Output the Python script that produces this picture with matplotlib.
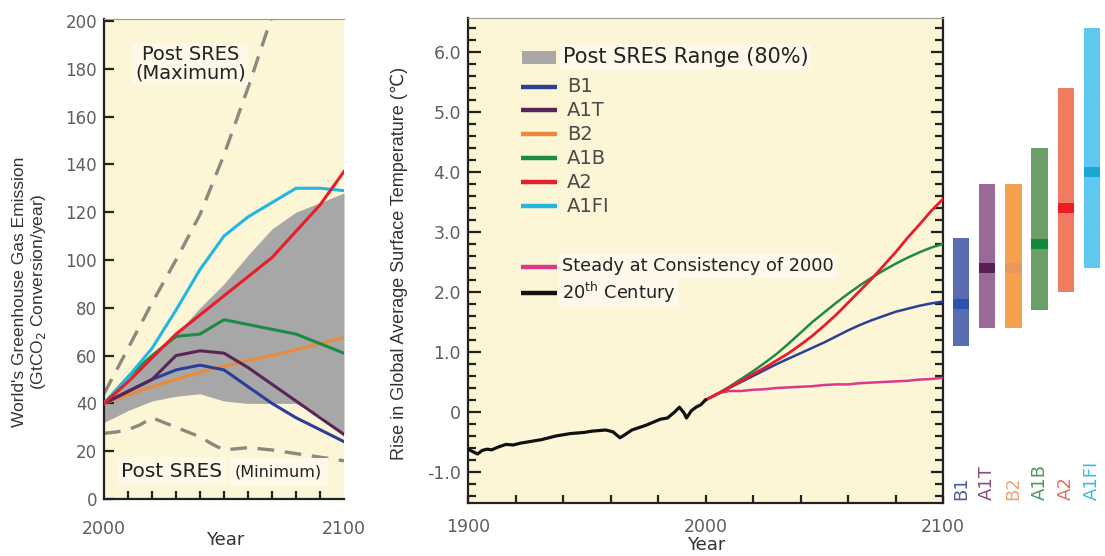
import matplotlib
matplotlib.use("Agg")
import matplotlib.pyplot as plt
from matplotlib.ticker import MultipleLocator, FixedLocator, FuncFormatter

# ---------------- data ----------------
# Left panel: greenhouse gas emissions (GtCO2-eq / year)
emis_years = [2000, 2010, 2020, 2030, 2040, 2050, 2060, 2070, 2080, 2090, 2100]
emis_B1   = [40, 45, 50, 54, 56, 54, 47, 40, 34, 29, 24]
emis_A1T  = [40, 45, 50, 60, 62, 61, 55, 48, 41, 34, 27]
emis_B2   = [40, 43.5, 47, 50, 53, 55.5, 58, 60, 62.5, 65, 67.5]
emis_A1B  = [40, 51, 60, 68, 69, 75, 73, 71, 69, 65, 61]
emis_A2   = [40, 49, 59, 69, 77, 85, 93, 101, 112, 123, 137]
emis_A1FI = [40, 51, 63, 79, 96, 110, 118, 124, 130, 130, 129]
range_lower = [32, 37, 41, 43, 44, 41, 40, 40, 40, 35, 27]
range_upper = [40, 50, 59, 69, 80, 90, 102, 113, 120, 124, 128]
max_years = [2000, 2010, 2020, 2030, 2040, 2050, 2060, 2070]
post_sres_max = [44, 63, 82, 100, 119, 144, 172, 202]
min_years = [2000, 2005, 2010, 2015, 2020, 2025, 2030, 2035, 2040, 2045, 2050,
             2055, 2060, 2070, 2080, 2090, 2100]
post_sres_min = [27.5, 28, 29, 31, 34, 32, 30, 28, 26, 23, 20.5, 21, 21.5, 20.5, 19, 17.5, 16]

# Middle panel: temperature change (deg C)
t20_years = [1900, 1902, 1904, 1906, 1908, 1910, 1913, 1916, 1919, 1922, 1925, 1928,
             1931, 1934, 1937, 1940, 1943, 1946, 1949, 1952, 1955, 1958, 1961, 1964,
             1966, 1969, 1972, 1975, 1978, 1981, 1984, 1987, 1989, 1991, 1992, 1994,
             1996, 1998, 2000]
t20_vals = [-0.62, -0.66, -0.70, -0.64, -0.62, -0.63, -0.58, -0.54, -0.55, -0.52, -0.50,
            -0.48, -0.46, -0.43, -0.40, -0.38, -0.36, -0.35, -0.34, -0.32, -0.31, -0.30,
            -0.33, -0.43, -0.38, -0.30, -0.26, -0.22, -0.17, -0.12, -0.10, 0.0, 0.08,
            -0.02, -0.10, 0.02, 0.08, 0.12, 0.20]
temp_years = [2000, 2005, 2010, 2015, 2020, 2025, 2030, 2035, 2040, 2045, 2050,
              2055, 2060, 2065, 2070, 2075, 2080, 2085, 2090, 2095, 2100]
temp_B1 = [0.20, 0.30, 0.40, 0.50, 0.60, 0.70, 0.80, 0.89, 0.98, 1.07, 1.16,
           1.26, 1.36, 1.45, 1.53, 1.60, 1.67, 1.72, 1.77, 1.81, 1.84]
temp_A1B = [0.20, 0.30, 0.42, 0.55, 0.68, 0.82, 0.97, 1.14, 1.32, 1.50, 1.66,
            1.82, 1.97, 2.11, 2.24, 2.36, 2.47, 2.57, 2.66, 2.74, 2.80]
temp_A2 = [0.20, 0.30, 0.41, 0.52, 0.63, 0.74, 0.86, 0.98, 1.12, 1.27, 1.44,
           1.62, 1.82, 2.02, 2.22, 2.44, 2.66, 2.90, 3.12, 3.35, 3.55]
temp_commit = [0.20, 0.31, 0.35, 0.35, 0.37, 0.38, 0.40, 0.41, 0.42, 0.43, 0.45,
               0.46, 0.46, 0.48, 0.49, 0.50, 0.51, 0.52, 0.54, 0.55, 0.57]

# Right bars: likely range and best estimate at 2090-2099
bar_names = ["B1", "A1T", "B2", "A1B", "A2", "A1FI"]
bar_low = [1.1, 1.4, 1.4, 1.7, 2.0, 2.4]
bar_high = [2.9, 3.8, 3.8, 4.4, 5.4, 6.4]
bar_best = [1.8, 2.4, 2.4, 2.8, 3.4, 4.0]

# ---------------- styles ----------------
BG = "#fcf5d6"
c_line = {"B1": "#2b3f96", "A1T": "#5a2456", "B2": "#ea8a3c", "A1B": "#1f8a48",
          "A2": "#e61e2a", "A1FI": "#22b6e0"}
bar_face = ["#5a6cb2", "#9a6a98", "#f4a04e", "#6c9e68", "#f07c62", "#5ec8f0"]
bar_mark = ["#2c52ae", "#5a1e54", "#e8985e", "#128a3c", "#ee1c24", "#18a8d6"]
lab_col = ["#4e5ca6", "#8a4c82", "#f0a272", "#4c9a5c", "#e86c5c", "#40b8e2"]
TICKC = "#5e5e5e"
W, H = 1105, 556

fig = plt.figure(figsize=(W / 100, H / 100), dpi=100)
fig.patch.set_facecolor("white")


def fr(x0, y0, x1, y1):
    return [x0 / W, 1 - y1 / H, (x1 - x0) / W, (y1 - y0) / H]


# ---------------- left panel ----------------
ax1 = fig.add_axes(fr(104, 19, 344, 499))
ax1.set_facecolor(BG)
ax1.set_xlim(2000, 2100)
ax1.set_ylim(0, 200.8)
ax1.fill_between(emis_years, range_lower, range_upper, color="#a7a7a7", lw=0, zorder=1)
ax1.plot(max_years, post_sres_max, color="#8c8a80", lw=2.4, ls=(0, (5, 3.2)), zorder=2)
ax1.plot(min_years, post_sres_min, color="#8c8a80", lw=2.4, ls=(0, (5, 3.2)), zorder=2)
for name, vals in [("B2", emis_B2), ("B1", emis_B1), ("A1T", emis_A1T),
                   ("A1B", emis_A1B), ("A1FI", emis_A1FI), ("A2", emis_A2)]:
    ax1.plot(emis_years, vals, color=c_line[name], lw=2.2, zorder=3,
             solid_joinstyle="round")
ax1.spines["right"].set_visible(False)
ax1.spines["top"].set_color("#9a9a90")
ax1.spines["top"].set_linewidth(0.8)
for s in ["left", "bottom"]:
    ax1.spines[s].set_color("#222222")
    ax1.spines[s].set_linewidth(1.6)
ax1.xaxis.set_major_locator(FixedLocator([2000, 2100]))
ax1.xaxis.set_minor_locator(MultipleLocator(10))
ax1.yaxis.set_major_locator(MultipleLocator(20))
ax1.tick_params(axis="both", which="both", direction="in", color="#222222", width=1.6)
ax1.tick_params(axis="y", length=7, labelsize=12, labelcolor=TICKC, pad=5)
ax1.tick_params(axis="x", which="major", length=0, labelsize=12.5, labelcolor=TICKC, pad=15)
ax1.tick_params(axis="x", which="minor", length=6)
ax1.text(2036, 182, "Post SRES\n(Maximum)", ha="center", va="center", fontsize=14,
         color="#222222", linespacing=0.95, zorder=5,
         bbox=dict(facecolor="#fdf8e8", edgecolor="none", pad=2))
ax1.text(2007.0, 11.7, "Post SRES", ha="left", va="center", fontsize=14.5,
         color="#222222", zorder=5,
         bbox=dict(facecolor="#fdf8e8", edgecolor="none", pad=3))
ax1.text(2054.5, 11.2, "(Minimum)", ha="left", va="center", fontsize=11.5,
         color="#222222", zorder=6,
         bbox=dict(facecolor="#fdf8e8", edgecolor="none", pad=4.5))

fig.text(20 / W, 1 - 292 / H, "World's Greenhouse Gas Emission", rotation=90,
         ha="center", va="center", fontsize=12.5, color="#333333",
         family=["Liberation Sans", "DejaVu Sans"])
fig.text(39 / W, 1 - 292 / H, "(GtCO$_2$ Conversion/year)", rotation=90,
         ha="center", va="center", fontsize=12.5, color="#333333",
         family=["Liberation Sans", "DejaVu Sans"])
fig.text(225 / W, 1 - 540 / H, "Year", ha="center", va="center", fontsize=13, color="#333333")

# ---------------- middle panel ----------------
ax2 = fig.add_axes(fr(468, 18, 943, 503))
ax2.set_facecolor(BG)
ax2.set_xlim(1900, 2100)
ax2.set_ylim((412 - 503) / 60, (412 - 18) / 60)
ax2.plot(temp_years, temp_B1, color=c_line["B1"], lw=1.8, zorder=3)
ax2.plot(temp_years, temp_A1B, color=c_line["A1B"], lw=1.8, zorder=3)
ax2.plot(temp_years, temp_commit, color="#d8398a", lw=1.8, zorder=3)
ax2.plot(temp_years, temp_A2, color=c_line["A2"], lw=2.0, zorder=4)
ax2.plot(t20_years, t20_vals, color="#111111", lw=2.3, zorder=5)
ax2.spines["top"].set_color("#9a9a90")
ax2.spines["top"].set_linewidth(0.8)
for s in ["left", "bottom", "right"]:
    ax2.spines[s].set_color("#222222")
    ax2.spines[s].set_linewidth(1.6)
ax2.xaxis.set_major_locator(FixedLocator([1900, 2000, 2100]))
ax2.xaxis.set_minor_locator(MultipleLocator(20))
ax2.yaxis.set_major_locator(MultipleLocator(1.0))
ax2.yaxis.set_minor_locator(MultipleLocator(0.2))
ax2.yaxis.set_major_formatter(FuncFormatter(lambda v, p: "0" if abs(v) < 1e-9 else ("%.1f" % v)))
ax2.tick_params(axis="both", which="both", direction="in", color="#222222", width=1.6)
ax2.tick_params(axis="y", which="both", left=True, right=True)
ax2.tick_params(axis="y", which="major", length=9, labelsize=12.5, labelcolor=TICKC, pad=5)
ax2.tick_params(axis="y", which="minor", length=5.5)
ax2.tick_params(axis="x", which="both", length=6)
ax2.tick_params(axis="x", which="major", labelsize=12.5, labelcolor=TICKC, pad=11)
ax2.set_ylabel("Rise in Global Average Surface Temperature (\u2103)", fontsize=13,
               color="#333333", family=["Liberation Sans", "DejaVu Sans"])
ax2.yaxis.set_label_coords(-(468 - 408) / 475, 1 - (263 - 18) / 485)
fig.text(706 / W, 1 - 545 / H, "Year", ha="center", va="center", fontsize=13, color="#333333")


# legend (drawn in axes fraction coordinates)
def ax2_y(py):
    return 1 - (py - 18) / 485


def ax2_x(px):
    return (px - 468) / 475


tr = ax2.transAxes
ax2.fill_between([ax2_x(522), ax2_x(556)], ax2_y(51), ax2_y(64), color="#a9a7a7",
                 transform=tr, lw=0)
ax2.text(ax2_x(563), ax2_y(57), "Post SRES Range (80%)", transform=tr, fontsize=15,
         va="center", ha="left", color="#222222",
         bbox=dict(facecolor="#fdf8ea", edgecolor="none", pad=2))
leg_items = [("B1", c_line["B1"], 87), ("A1T", c_line["A1T"], 110), ("B2", c_line["B2"], 134),
             ("A1B", c_line["A1B"], 158), ("A2", c_line["A2"], 182), ("A1FI", c_line["A1FI"], 206)]
for name, col, py in leg_items:
    ax2.plot([ax2_x(521), ax2_x(557)], [ax2_y(py), ax2_y(py)], color=col, lw=3.2,
             transform=tr, solid_capstyle="butt")
    ax2.text(ax2_x(567), ax2_y(py), name, transform=tr, fontsize=14, va="center",
             ha="left", color="#4a4a4a")
ax2.plot([ax2_x(521), ax2_x(557)], [ax2_y(267), ax2_y(267)], color="#d8398a", lw=3.2,
         transform=tr, solid_capstyle="butt")
ax2.text(ax2_x(562), ax2_y(266), "Steady at Consistency of 2000", transform=tr,
         fontsize=12.8, va="center", ha="left", color="#222222",
         bbox=dict(facecolor="#fdf8ea", edgecolor="none", pad=2))
ax2.plot([ax2_x(521), ax2_x(557)], [ax2_y(293), ax2_y(293)], color="#111111", lw=3.2,
         transform=tr, solid_capstyle="butt")
ax2.text(ax2_x(562), ax2_y(292), "20$^{\\mathrm{th}}$ Century", transform=tr,
         fontsize=12.8, va="center", ha="left", color="#222222",
         bbox=dict(facecolor="#fdf8ea", edgecolor="none", pad=2))

# ---------------- right bars ----------------
ax3 = fig.add_axes(fr(945, 18, 1105, 503))
ax3.set_ylim(ax2.get_ylim())
ax3.set_xlim(-16 / 26.2, (160 - 16) / 26.2)
ax3.axis("off")
xs = list(range(len(bar_names)))
heights = [h - l for l, h in zip(bar_low, bar_high)]
ax3.bar(xs, heights, bottom=bar_low, width=0.63, color=bar_face, lw=0)
ax3.bar(xs, [0.18] * len(xs), bottom=[b - 0.09 for b in bar_best], width=0.63,
        color=bar_mark, lw=0)
for i, name in enumerate(bar_names):
    ax3.text(i, (412 - 500) / 60, name, rotation=90, ha="center", va="bottom",
             fontsize=13, color=lab_col[i])

fig.savefig("out.png", dpi=100)
